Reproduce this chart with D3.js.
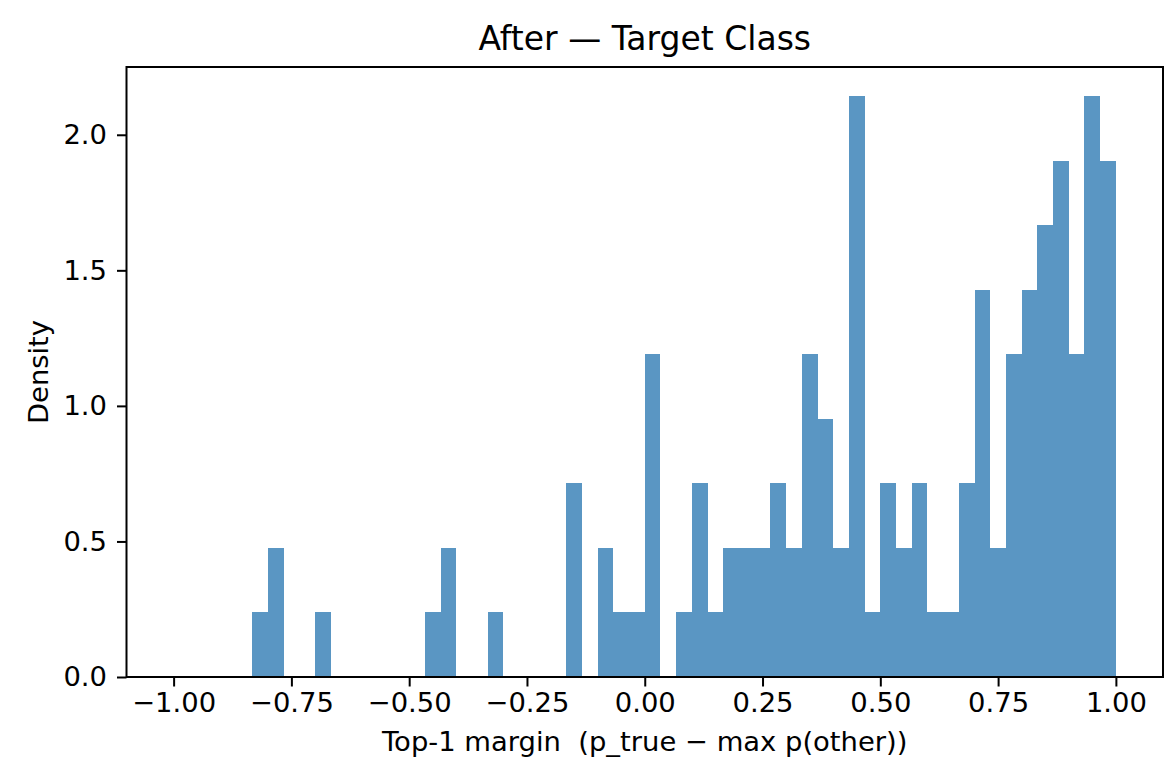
<!DOCTYPE html>
<html><head><meta charset="utf-8">
<script src="https://cdn.jsdelivr.net/npm/d3@7"></script>
<style>body{margin:0;background:#fff}svg{display:block}text{font-family:"DejaVu Sans",sans-serif;fill:#000}</style>
</head><body><svg id="c" width="1176" height="782"></svg>
<script>
// 60 bins over [-1, 1]; density per bin
const binStart = -1, binEnd = 1, binCount = 60;
const density = [
 0,0,0,0,0,0.238,0.476,0,0,0.238,
 0,0,0,0,0,0,0.238,0.476,0,0,
 0.238,0,0,0,0,0.714,0,0.476,0.238,0.238,
 1.190,0,0.238,0.714,0.238,0.476,0.476,0.476,0.714,0.476,
 1.190,0.952,0.476,2.143,0.238,0.714,0.476,0.714,0.238,0.238,
 0.714,1.429,0.476,1.190,1.429,1.667,1.905,1.190,2.143,1.905
];
const xTicks = [-1.00,-0.75,-0.50,-0.25,0.00,0.25,0.50,0.75,1.00];
const yTicks = [0.0,0.5,1.0,1.5,2.0];
const title = "After — Target Class";
const xLabel = "Top-1 margin  (p_true − max p(other))";
const yLabel = "Density";

const svg = d3.select("#c");
const L=126.5, R=1163, T=67, B=677;
const x = d3.scaleLinear().domain([-1.1,1.1]).range([L,R]);
const y = d3.scaleLinear().domain([0,2.25]).range([B,T]);
const w = (binEnd-binStart)/binCount;
const bins = density.map((d,i)=>({x0:binStart+i*w, x1:binStart+(i+1)*w, d}));

svg.append("g").selectAll("rect").data(bins.filter(b=>b.d>0)).join("rect")
  .attr("x",b=>x(b.x0)).attr("width",b=>x(b.x1)-x(b.x0))
  .attr("y",b=>y(b.d)).attr("height",b=>y(0)-y(b.d))
  .attr("fill","#5a96c3").attr("shape-rendering","crispEdges");

const fmtX = v => d3.format(".2f")(v).replace("-","−");
const xa = svg.append("g").attr("transform",`translate(0,${B})`)
  .call(d3.axisBottom(x).tickValues(xTicks).tickFormat(fmtX).tickSize(9.5).tickPadding(6.5));
const ya = svg.append("g").attr("transform",`translate(${L},0)`)
  .call(d3.axisLeft(y).tickValues(yTicks).tickFormat(d3.format(".1f")).tickSize(9.5).tickPadding(10));
[xa,ya].forEach(g=>{
  g.select(".domain").remove();
  g.selectAll(".tick line").attr("stroke","#000").attr("stroke-width",2);
  g.selectAll(".tick text").attr("font-size",27.4).attr("font-family","DejaVu Sans").attr("fill","#000");
});
svg.append("rect").attr("x",L).attr("y",T).attr("width",R-L).attr("height",B-T)
  .attr("fill","none").attr("stroke","#000").attr("stroke-width",2);

svg.append("text").attr("x",(L+R)/2).attr("y",50).attr("text-anchor","middle")
  .attr("font-size",33).text(title);
svg.append("text").attr("x",(L+R)/2).attr("y",751).attr("text-anchor","middle")
  .style("white-space","pre").attr("font-size",27.4).text(xLabel);
svg.append("text").attr("transform",`translate(48,${(T+B)/2}) rotate(-90)`).attr("text-anchor","middle")
  .attr("font-size",27.4).text(yLabel);
</script></body></html>
